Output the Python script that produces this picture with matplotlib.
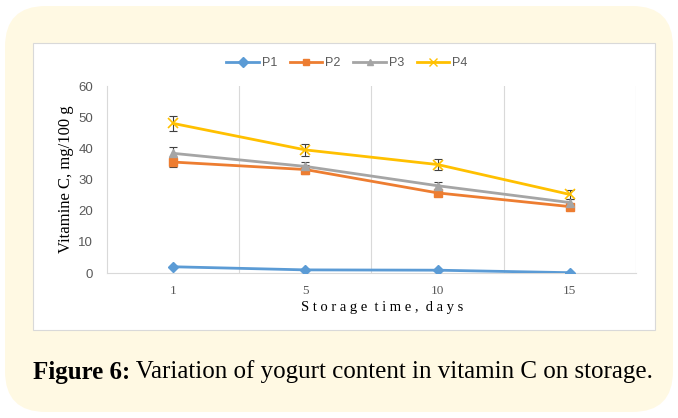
import matplotlib
matplotlib.use("Agg")
import matplotlib.pyplot as plt
from matplotlib.patches import FancyBboxPatch, Rectangle
from matplotlib.lines import Line2D

# data
days = ["1", "5", "10", "15"]
p1 = [2.0, 1.0, 0.9, 0.1]
p2 = [35.6, 33.2, 25.7, 21.3]
p3 = [38.4, 34.2, 28.0, 22.6]
p4 = [48.0, 39.5, 34.8, 25.2]
p1_err = [0.2, 0.2, 0.2, 0.1]
p2_err = [1.5, 1.3, 1.0, 0.8]
p3_err = [2.0, 1.5, 1.2, 1.0]
p4_err = [2.4, 1.8, 1.9, 1.4]
names = ["P1", "P2", "P3", "P4"]

colors = ["#5B9BD5", "#ED7D31", "#A5A5A5", "#FFC000"]
markers = ["D", "s", "^", "x"]

fig = plt.figure(figsize=(6.78, 4.18), dpi=100)
W, H = 678, 418

# cream rounded panel + white chart box
fig.patches.append(FancyBboxPatch((5 / W, 6 / H), 668 / W, 406 / H,
                                  boxstyle="round,pad=0,rounding_size=0.06",
                                  transform=fig.transFigure, fc="#FFF9E3", ec="none",
                                  zorder=-3, mutation_aspect=W / H))
fig.patches.append(Rectangle((33 / W, (H - 330) / H), 622 / W, 287 / H,
                             transform=fig.transFigure, fc="white", ec="#D9D9D9",
                             lw=0.8, zorder=-2))

ax = fig.add_axes([107 / W, (H - 273) / H, 529 / W, 187 / H])
ax.set_facecolor("none")

x = list(range(len(days)))
series = [p1, p2, p3, p4]
errs = [p1_err, p2_err, p3_err, p4_err]
for vals, err, c, m, n in zip(series, errs, colors, markers, names):
    ax.errorbar(x, vals, yerr=err, fmt="none", ecolor="#404040", elinewidth=0.8,
                capsize=3, capthick=0.8, zorder=2)
    ms = 6.5 if m == "x" else 5.5
    ax.plot(x, vals, color=c, lw=2, marker=m, ms=ms, mew=1.2 if m == "x" else 1,
            zorder=3, label=n)

ax.set_xlim(-0.5, 3.5)
ax.set_ylim(0, 60)
ax.set_yticks(range(0, 61, 10))
ax.set_xticks(x)
ax.set_xticklabels(days, fontfamily="Liberation Serif", fontsize=9.5, color="#595959")
for t in ax.get_yticklabels():
    t.set_fontfamily("Liberation Sans")
    t.set_fontsize(9.5)
    t.set_color("#595959")
ax.tick_params(length=0, pad=9)
ax.tick_params(axis="y", pad=10)

# vertical grid between categories
for gx in [0.5, 1.5, 2.5, 3.5]:
    ax.axvline(gx, color="#D9D9D9", lw=0.8, zorder=0)
for s in ["top", "right"]:
    ax.spines[s].set_visible(False)
ax.spines["left"].set_color("#D9D9D9")
ax.spines["bottom"].set_color("#D9D9D9")

ax.set_ylabel("Vitamine C, mg/100 g", fontfamily="Liberation Serif", fontsize=12,
              color="black")
ax.yaxis.set_label_coords(-33 / 529, 0.5)
fig.text(382 / W, (H - 307) / H, "S t o r a g e  t i m e ,  d a y s",
         fontfamily="Liberation Serif", fontsize=10.5, ha="center", va="center")

handles = [Line2D([], [], color=c, lw=2, marker=m, ms=6 if m == "x" else 5)
           for c, m in zip(colors, markers)]
fig.legend(handles, names, loc="center", bbox_to_anchor=(347 / W, (H - 63) / H),
           ncol=4, frameon=False, handlelength=2.6, columnspacing=1.0,
           handletextpad=0.25, prop={"family": "Liberation Sans", "size": 9},
           labelcolor="#595959")

# caption
cap_y = (H - 372) / H
t1 = fig.text(33 / W, cap_y, "Figure 6:", fontfamily="Liberation Serif",
              fontweight="bold", fontsize=18, va="center")
fig.canvas.draw()
bb = t1.get_window_extent()
fig.text(bb.x1 / W, cap_y, " Variation of yogurt content in vitamin C on storage.",
         va="center", ha="left", fontfamily="Liberation Serif", fontsize=18)

fig.savefig("out.png", dpi=100)
